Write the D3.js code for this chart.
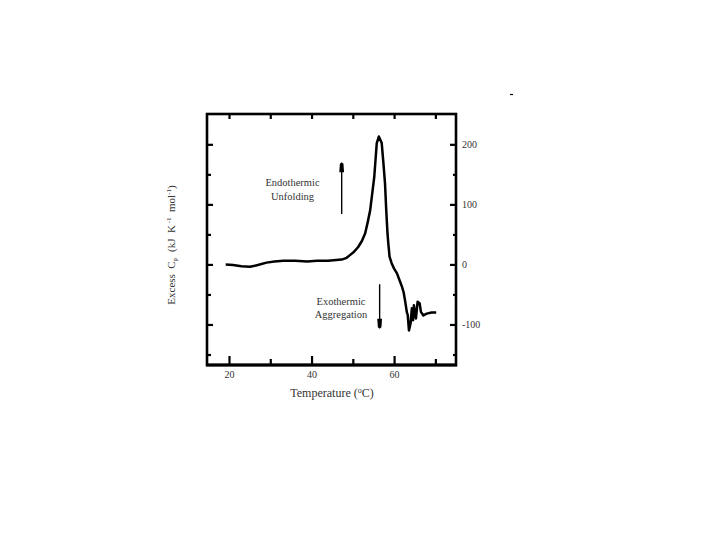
<!DOCTYPE html>
<html><head><meta charset="utf-8">
<script src="https://cdn.jsdelivr.net/npm/d3@7"></script>
<style>body{margin:0;background:#fff}svg{display:block}text{font-family:"Liberation Serif","Times New Roman",serif;fill:#333}</style>
</head><body>
<script>
// Data
const temperature = [19.2,21,23,25.1,27,29.1,31,33.2,36,39,41.3,44,47.3,48.5,49.3,50.3,51.3,52.2,53.0,53.6,54.2,54.7,55.2,55.8,56.3,57.0,57.4,57.8,58.1,58.4,58.6,58.9,59.4,60.0,60.7,61.3,61.9,62.3,62.7,63.1,63.3,63.6,64.0,64.3,64.6,64.8,65.3,65.7,66.2,66.5,67.1,67.9,69.1,70.2];
const excessCp    = [0,-1,-3,-4,-1,3,5,6,6,5,6,6,8,11,15.5,21,29,39,52,70,90,118,146,202,213,202,170,135,90,52,35,13,2,-7,-15,-26,-37,-46,-62,-80,-84,-110,-98,-73,-93,-68,-90,-62,-65,-79,-85,-82,-80,-80];
const xMajorTicks = [20,40,60];
const xMinorTicks = [30,50,70];
const yMajorTicks = [200,100,0,-100];
const yMinorTicks = [150,50,-50,-150];
const xTitle = "Temperature (";
const annotUp = ["Endothermic","Unfolding"];
const annotDown = ["Exothermic","Aggregation"];

const W=720,H=540;
const L=207,R=456,T=114,B=365;
const svg=d3.select("body").append("svg").attr("width",W).attr("height",H);
const x=d3.scaleLinear().domain([14.67,75.0]).range([L,R]);
const y=d3.scaleLinear().domain([-167.5,250.5]).range([B,T]);
const fmt=d=>String(d);

function ax(g,labels){g.select(".domain").remove();g.selectAll(".tick line").attr("stroke","#000").attr("stroke-width",2.2);
  g.selectAll("text").style("font-size","10px").style("font-family","Liberation Serif, serif").attr("fill","#444");
  if(!labels) g.selectAll("text").remove();}

// bottom axis
svg.append("g").attr("transform",`translate(0,${B})`).call(d3.axisBottom(x).tickValues(xMajorTicks).tickFormat(fmt).tickSize(-9).tickPadding(6)).call(g=>ax(g,true));
svg.append("g").attr("transform",`translate(0,${B})`).call(d3.axisBottom(x).tickValues(xMinorTicks).tickSize(-6)).call(g=>ax(g,false));
// top axis
svg.append("g").attr("transform",`translate(0,${T})`).call(d3.axisTop(x).tickValues(xMajorTicks.concat(xMinorTicks)).tickSize(-5)).call(g=>ax(g,false));
// right axis
svg.append("g").attr("transform",`translate(${R},0)`).call(d3.axisRight(y).tickValues(yMajorTicks).tickFormat(fmt).tickSize(-6).tickPadding(6)).call(g=>ax(g,true));
svg.append("g").attr("transform",`translate(${R},0)`).call(d3.axisRight(y).tickValues(yMinorTicks).tickSize(-3)).call(g=>ax(g,false));
// left axis
svg.append("g").attr("transform",`translate(${L},0)`).call(d3.axisLeft(y).tickValues(yMajorTicks).tickSize(-6)).call(g=>ax(g,false));
svg.append("g").attr("transform",`translate(${L},0)`).call(d3.axisLeft(y).tickValues(yMinorTicks).tickSize(-4)).call(g=>ax(g,false));

// frame
svg.append("rect").attr("x",L).attr("y",T).attr("width",R-L).attr("height",B-T).attr("fill","none").attr("stroke","#000").attr("stroke-width",2.6);
svg.append("line").attr("x1",L-1).attr("x2",R+1).attr("y1",B).attr("y2",B).attr("stroke","#000").attr("stroke-width",3.2);

// curve
const pts=temperature.map((t,i)=>[t,excessCp[i]]);
svg.append("path").datum(pts).attr("fill","none").attr("stroke","#000").attr("stroke-width",2.5).attr("stroke-linejoin","round")
  .attr("d",d3.line().x(d=>x(d[0])).y(d=>y(d[1])).curve(d3.curveLinear));

// annotations
function arrow(xv,y1,y2){
  const X=x(xv),Y1=y(y1),Y2=y(y2),dir=Y2<Y1?-1:1;
  svg.append("line").attr("x1",X).attr("x2",X).attr("y1",Y1).attr("y2",Y2-dir*8).attr("stroke","#000").attr("stroke-width",1.4);
  svg.append("path").attr("d",`M${X-2.4},${Y2-dir*10}L${X+2.4},${Y2-dir*10}L${X+1.8},${Y2-dir*1.5}L${X},${Y2}L${X-1.8},${Y2-dir*1.5}Z`).attr("fill","#000");
}
arrow(47.3,84,170);
arrow(56.5,-33,-107);
svg.selectAll(".aup").data(annotUp).join("text").attr("x",292.5).attr("y",(d,i)=>186+i*14).attr("text-anchor","middle").style("font-size","10.5px").text(d=>d);
svg.selectAll(".adn").data(annotDown).join("text").attr("x",341).attr("y",(d,i)=>305+i*13).attr("text-anchor","middle").style("font-size","10.5px").text(d=>d);

// x title
const xt=svg.append("text").attr("x",332).attr("y",397).attr("text-anchor","middle").style("font-size","12px");
xt.append("tspan").text(xTitle);
xt.append("tspan").attr("dy",-4).style("font-size","8px").text("o");
xt.append("tspan").attr("dy",4).text("C)");

// y title
const yt=svg.append("text").attr("transform","translate(175,245) rotate(-90)").attr("text-anchor","middle").style("font-size","11px").attr("xml:space","preserve");
yt.append("tspan").text("Excess  C");
yt.append("tspan").attr("dy",3).style("font-size","7px").text("P");
yt.append("tspan").attr("dy",-3).text("  (kJ  K");
yt.append("tspan").attr("dy",-4).style("font-size","7px").text(" -1");
yt.append("tspan").attr("dy",4).text("  mol");
yt.append("tspan").attr("dy",-4).style("font-size","7px").text("-1");
yt.append("tspan").attr("dy",4).text(")");

// stray mark top right
svg.append("line").attr("x1",510).attr("x2",513).attr("y1",94.5).attr("y2",94.5).attr("stroke","#000").attr("stroke-width",1.2);
</script>
</body></html>
